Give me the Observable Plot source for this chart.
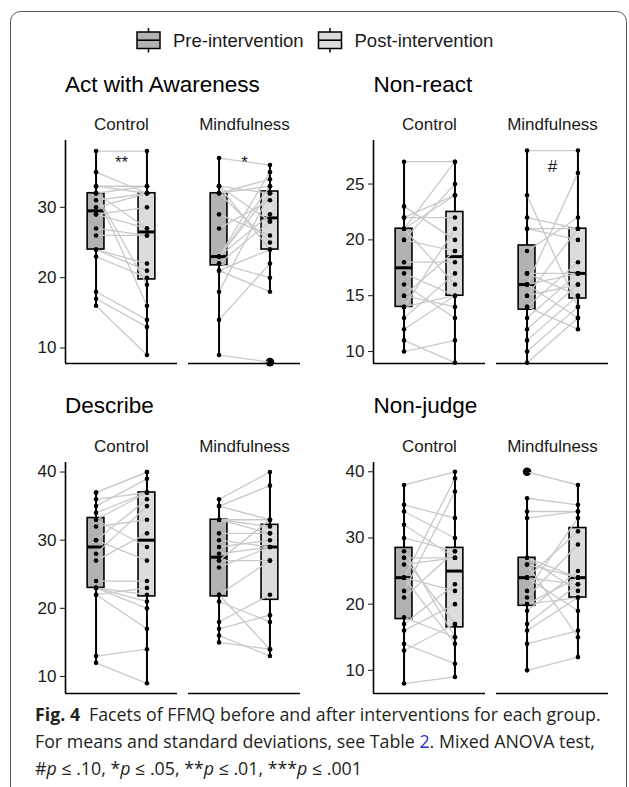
<!DOCTYPE html>
<html><head><meta charset="utf-8">
<script src="https://cdn.jsdelivr.net/npm/d3@7"></script>
<script src="https://cdn.jsdelivr.net/npm/@observablehq/plot@0.6"></script>
<style>
body{margin:0;background:#fff;}
#fig{position:relative;width:629px;height:787px;overflow:hidden;}
#fig > svg.bg{position:absolute;left:0;top:0;}
.panel{position:absolute;}
</style></head>
<body><div id="fig"></div>
<script>
// ---------- data ----------
const groups = ["Control", "Mindfulness"];
const timePoints = ["Pre-intervention", "Post-intervention"];
const facetTitles = ["Act with Awareness", "Non-react", "Describe", "Non-judge"];

// Act with Awareness
const awareControlPre  = [38,35,33,33,32,32,32,32,31,30,29,29,27,26,24,24,23,18,17,16];
const awareControlPost = [38,32,33,32,33,27,16,19,32,32,30,27,26,26,22,21,20,14,13,9];
const awareMindPre     = [37,33,33,33,32,32,32,29,27,23,23,23,23,22,22,21,21,18,14,9];
const awareMindPost    = [36,32,28,24,34,33,25,26,31,35,33,32,29,28,20,24,18,32,22,8];
// Non-react
const reactControlPre  = [27,23,22,22,21,21,21,20,20,18,17,16,15,15,14,14,13,12,11,10];
const reactControlPost = [27,20,24,22,27,24,16,25,19,18,15,13,19,14,15,21,17,15,9,11];
const reactMindPre     = [28,24,22,21,21,19,17,17,16,16,16,15,15,14,14,13,12,11,10,9];
const reactMindPost    = [28,14,21,21,20,22,15,17,26,17,13,21,16,18,12,17,16,15,14,13];
// Describe
const descControlPre   = [37,37,36,35,34,33,33,32,30,30,28,27,24,23,23,23,22,22,13,12];
const descControlPost  = [40,40,37,39,37,37,29,33,27,36,35,31,24,22,21,20,17,23,14,9];
const descMindPre      = [36,35,35,33,33,33,31,30,29,28,27,27,26,22,22,21,18,17,16,15];
const descMindPost     = [40,38,33,33,32,31,31,29,30,29,27,33,29,27,14,18,22,19,13,14];
// Non-judge
const judgeControlPre  = [38,35,34,32,30,28,27,27,26,24,24,24,22,21,18,17,16,14,13,8];
const judgeControlPost = [40,33,30,27,28,15,27,17,27,39,22,14,37,28,15,23,20,11,17,9];
const judgeMindPre     = [40,36,34,33,27,27,26,26,24,24,24,22,21,20,20,19,17,16,14,10];
const judgeMindPost    = [38,35,34,34,24,22,24,15,23,31,19,33,29,24,21,25,23,21,16,12];

// axis ticks
const awareTicks = [10, 20, 30];
const reactTicks = [10, 15, 20, 25];
const descTicks  = [10, 20, 30, 40];
const judgeTicks = [10, 20, 30, 40];

// significance marks (group, label, value)
const awareSigGroups = ["Control", "Mindfulness"];
const awareSigLabels = ["**", "*"];
const awareSigValues = [36.4, 36.4];
const reactSigGroups = ["Mindfulness"];
const reactSigLabels = ["#"];
const reactSigValues = [26.6];

// ---------- styling ----------
const preFill = "#b2b2b2", postFill = "#dcdcdc", pairStroke = "#c9c9c9";
const FONT = "'Liberation Sans', Arial, Helvetica, sans-serif";

function boxStats(values) {
  const s = values.slice().sort(d3.ascending);
  const q1 = d3.quantile(s, 0.25), med = d3.quantile(s, 0.5), q3 = d3.quantile(s, 0.75);
  const iqr = q3 - q1;
  const inside = s.filter(v => v >= q1 - 1.5 * iqr && v <= q3 + 1.5 * iqr);
  return {q1, med, q3, lo: d3.min(inside), hi: d3.max(inside),
          outliers: s.filter(v => v < q1 - 1.5 * iqr || v > q3 + 1.5 * iqr)};
}

function panel({pre, post, yDomain, yTicks, sigG = [], sigL = [], sigV = [], height}) {
  const pairs = [], pts = [], stats = [], outs = [];
  groups.forEach((g, gi) => {
    pre[gi].forEach((v, i) => {
      pairs.push({g, a: v, b: post[gi][i]});
      pts.push({g, t: 1, v});
      pts.push({g, t: 2, v: post[gi][i]});
    });
    [pre[gi], post[gi]].forEach((vals, ti) => {
      const st = boxStats(vals);
      stats.push({g, t: ti + 1, ...st});
      st.outliers.forEach(v => outs.push({g, t: ti + 1, v}));
    });
  });
  const sig = sigG.map((g, i) => ({g, label: sigL[i], v: sigV[i]}));
  const xDomain = [0.4, 2.6];
  const bw = 0.165;
  return Plot.plot({
    width: 310, height,
    marginLeft: 65, marginRight: 10, marginTop: 40, marginBottom: 5,
    style: {fontFamily: FONT, fontSize: "17px", color: "#1a1a1a", background: "transparent"},
    fx: {domain: groups, axis: null, paddingInner: 0.09, paddingOuter: 0},
    x: {domain: xDomain, axis: null},
    y: {domain: yDomain, ticks: yTicks, tickSize: 5, tickPadding: 4, label: null, tickFormat: d => String(d)},
    marks: [
      Plot.ruleX(stats, {fx: "g", x: "t", y1: "q3", y2: "hi", stroke: "black", strokeWidth: 2}),
      Plot.ruleX(stats, {fx: "g", x: "t", y1: "lo", y2: "q1", stroke: "black", strokeWidth: 2}),
      Plot.rect(stats, {fx: "g", x1: d => d.t - bw, x2: d => d.t + bw, y1: "q1", y2: "q3",
        fill: d => d.t === 1 ? preFill : postFill, stroke: "black", strokeWidth: 1.6}),
      Plot.ruleY(stats, {fx: "g", x1: d => d.t - bw, x2: d => d.t + bw, y: "med", stroke: "black", strokeWidth: 3}),
      Plot.dot(outs, {fx: "g", x: "t", y: "v", r: 4.3, fill: "black"}),
      Plot.link(pairs, {fx: "g", x1: () => 1, x2: () => 2, y1: "a", y2: "b", stroke: pairStroke, strokeWidth: 1.3}),
      Plot.dot(pts, {fx: "g", x: "t", y: "v", r: 2.3, fill: "black"}),
      Plot.ruleX([groups[0]], {fx: d => d, x: xDomain[0], stroke: "black", strokeWidth: 1.6}),
      Plot.ruleY(groups, {fx: d => d, y: yDomain[0], stroke: "black", strokeWidth: 1.6}),
      Plot.text(groups, {fx: d => d, text: d => d, frameAnchor: "top", lineAnchor: "bottom", dy: -11, fontSize: 17, fill: "#1a1a1a"}),
      Plot.text(sig, {fx: "g", x: () => 1.5, y: "v", text: "label", fontSize: 17, fill: "#1a1a1a"})
    ]
  });
}

const fig = document.getElementById("fig");

// background svg: frame, legend, titles, caption
const bg = d3.select(fig).append("svg").attr("class", "bg").attr("width", 629).attr("height", 787);
bg.append("rect").attr("x", 10.5).attr("y", 11.5).attr("width", 616).attr("height", 790)
  .attr("rx", 10).attr("fill", "none").attr("stroke", "#555").attr("stroke-width", 1);

// legend
const legendItems = [{label: timePoints[0], fill: preFill, x: 137}, {label: timePoints[1], fill: postFill, x: 318.5}];
legendItems.forEach(it => {
  const g = bg.append("g");
  g.append("line").attr("x1", it.x + 11.5).attr("x2", it.x + 11.5).attr("y1", 28).attr("y2", 52.5).attr("stroke", "black").attr("stroke-width", 1.5);
  g.append("rect").attr("x", it.x).attr("y", 32).attr("width", 23).attr("height", 16.5)
    .attr("fill", it.fill).attr("stroke", "black").attr("stroke-width", 1.5);
  g.append("line").attr("x1", it.x).attr("x2", it.x + 23).attr("y1", 40.2).attr("y2", 40.2).attr("stroke", "black").attr("stroke-width", 1.6);
  g.append("text").attr("x", it.x + 36).attr("y", 46.5).attr("font-family", FONT).attr("font-size", 18.5)
    .attr("fill", "#1a1a1a").text(it.label);
});

// titles
const titlePos = [[65, 91.5], [373.5, 91.5], [65, 413], [373.5, 413]];
facetTitles.forEach((t, i) => {
  bg.append("text").attr("x", titlePos[i][0]).attr("y", titlePos[i][1]).attr("font-family", FONT)
    .attr("font-size", 22.5).attr("fill", "#000").text(t);
});

// caption
const CAP = "'Open Sans', 'Noto Sans', sans-serif";
const cap = bg.append("g").attr("font-family", CAP).attr("font-size", 17.8).attr("fill", "#231f20");
const l1 = cap.append("text").attr("x", 35).attr("y", 721);
l1.append("tspan").attr("font-weight", "bold").text("Fig. 4");
l1.append("tspan").text("\u2002Facets of FFMQ before and after interventions for each group.");
const l2 = cap.append("text").attr("x", 35).attr("y", 748);
l2.append("tspan").text("For means and standard deviations, see Table ");
l2.append("tspan").attr("fill", "#2f2fd6").text("2");
l2.append("tspan").text(". Mixed ANOVA test,");
const l3 = cap.append("text").attr("x", 35).attr("y", 774.5);
[["#", "p", " \u2264 .10, "], ["*", "p", " \u2264 .05, "], ["**", "p", " \u2264 .01, "], ["***", "p", " \u2264 .001"]].forEach(([a, p, b]) => {
  l3.append("tspan").text(a);
  l3.append("tspan").attr("font-style", "italic").text(p);
  l3.append("tspan").text(b);
});

// panels
const panels = [
  {pre: [awareControlPre, awareMindPre], post: [awareControlPost, awareMindPost], yDomain: [7.8, 39.5], yTicks: awareTicks,
   sigG: awareSigGroups, sigL: awareSigLabels, sigV: awareSigValues, height: 268, left: 0, top: 100},
  {pre: [reactControlPre, reactMindPre], post: [reactControlPost, reactMindPost], yDomain: [8.93, 28.9], yTicks: reactTicks,
   sigG: reactSigGroups, sigL: reactSigLabels, sigV: reactSigValues, height: 268, left: 308.3, top: 100},
  {pre: [descControlPre, descMindPre], post: [descControlPost, descMindPost], yDomain: [7.5, 41.4], yTicks: descTicks,
   height: 276, left: 0, top: 421.7},
  {pre: [judgeControlPre, judgeMindPre], post: [judgeControlPost, judgeMindPost], yDomain: [6.5, 41.4], yTicks: judgeTicks,
   height: 276, left: 308.3, top: 421.7}
];
panels.forEach(p => {
  const el = panel(p);
  el.classList.add("panel");
  el.style.left = p.left + "px";
  el.style.top = p.top + "px";
  fig.appendChild(el);
});
</script>
</body></html>
